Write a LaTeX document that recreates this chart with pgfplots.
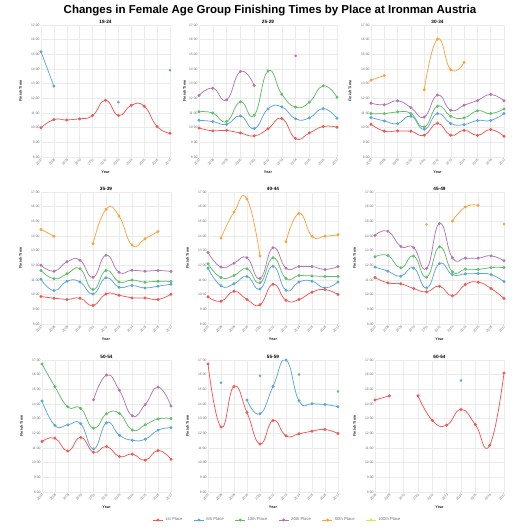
\documentclass[border=0pt]{standalone}
\usepackage{pgfplots}
\pgfplotsset{compat=1.18}
\usepackage{fontspec}
\setmainfont{Liberation Sans}
\definecolor{c1}{HTML}{F15854}
\definecolor{c5}{HTML}{5DA5DA}
\definecolor{c10}{HTML}{60BD68}
\definecolor{c20}{HTML}{B276B2}
\definecolor{c50}{HTML}{FAA43A}
\definecolor{c100}{HTML}{E8E04A}
\definecolor{gridc}{HTML}{EBEBEB}
\definecolor{tickc}{HTML}{707070}
\newcommand{\labfont}{\bfseries\fontsize{3.8}{4.5}\selectfont}
\pgfplotsset{
  panel/.style={scale only axis, height=132pt, xmin=2007, xmax=2017, ymin=8, ymax=17,
    xtick={2007,2008,2009,2010,2011,2012,2013,2014,2015,2016,2017},
    xticklabels={2007,2008,2009,2010,2011,2012,2013,2014,2015,2016,2017},
    ytick={8,9,10,11,12,13,14,15,16,17},
    yticklabels={8:00,9:00,10:00,11:00,12:00,13:00,14:00,15:00,16:00,17:00},
    grid=major, major grid style={draw=gridc, line width=0.5pt},
    axis line style={draw=none}, tick style={draw=none},
    ticklabel style={font=\fontsize{3.4}{4}\selectfont, text=tickc},
    xticklabel style={rotate=45, anchor=north east, inner sep=0.8pt},
    yticklabel style={inner sep=1.2pt},
    xlabel={\labfont Year}, ylabel={\labfont Finish Time},
    every axis x label/.style={at={(axis description cs:0.5,0)}, anchor=north, yshift=-14pt, inner sep=0pt, text=black!85},
    every axis y label/.style={at={(axis description cs:-0.158,0.5)}, rotate=90, anchor=center, inner sep=0pt, text=black!85},
    every axis title/.style={font=\bfseries\fontsize{4.7}{5.5}\selectfont, at={(axis description cs:0.5,1)}, anchor=south, inner sep=1.2pt},
    clip mode=individual,
  },
  s/.style={line width=0.75pt, mark=*, mark size=1.1pt, smooth, tension=0.85},
  p/.style={only marks, mark=*, mark size=1.1pt},
}
\begin{document}
\begin{tikzpicture}
\path[use as bounding box] (0,0) rectangle (530pt,530pt);
\node[font=\bfseries\fontsize{11.5}{13}\selectfont] at (270pt,519.5pt) {Changes in Female Age Group Finishing Times by Place at Ironman Austria};

% ---------- 18-24
\begin{axis}[panel, at={(41pt,373pt)}, anchor=south west, width=129pt, title={18-24}]
\addplot[s, c1] coordinates {(2007,10.0)(2008,10.55)(2009,10.52)(2010,10.6)(2011,10.83)(2012,11.87)(2013,10.83)(2014,11.53)(2015,11.46)(2016,10.08)(2017,9.62)};
\addplot[s, c5] coordinates {(2007,15.18)(2008,12.83)};
\addplot[p, c5] coordinates {(2013,11.74)(2017,13.92)};
\end{axis}

% ---------- 25-29
\begin{axis}[panel, at={(199pt,373pt)}, anchor=south west, width=138pt, title={25-29},
  every axis y label/.append style={at={(axis description cs:-0.105,0.5)}}]
\addplot[s, c1] coordinates {(2007,9.98)(2008,9.78)(2009,9.82)(2010,9.64)(2011,9.44)(2012,9.92)(2013,10.62)(2014,9.26)(2015,9.64)(2016,10.08)(2017,10.03)};
\addplot[s, c5] coordinates {(2007,10.5)(2008,10.42)(2009,10.23)(2010,10.8)(2011,9.94)(2012,11.28)(2013,11.42)(2014,10.6)(2015,10.67)(2016,11.3)(2017,10.64)};
\addplot[s, c10] coordinates {(2007,11.08)(2008,11.0)(2009,10.42)(2010,11.76)(2011,10.85)(2012,13.86)(2013,12.28)(2014,11.4)(2015,11.74)(2016,12.85)(2017,12.08)};
\addplot[s, c20] coordinates {(2007,12.19)(2008,12.69)(2009,11.9)(2010,13.83)(2011,12.88)};
\addplot[p, c20] coordinates {(2014,14.9)};
\end{axis}

% ---------- 30-34
\begin{axis}[panel, at={(371pt,373pt)}, anchor=south west, width=133pt, title={30-34}]
\addplot[s, c1] coordinates {(2007,10.23)(2008,9.76)(2009,9.78)(2010,9.76)(2011,9.48)(2012,10.3)(2013,9.48)(2014,9.82)(2015,9.48)(2016,9.87)(2017,9.41)};
\addplot[s, c5] coordinates {(2007,10.69)(2008,10.46)(2009,10.28)(2010,10.78)(2011,9.89)(2012,10.96)(2013,10.28)(2014,10.21)(2015,10.49)(2016,10.49)(2017,10.96)};
\addplot[s, c10] coordinates {(2007,10.96)(2008,10.96)(2009,11.08)(2010,10.96)(2011,10.05)(2012,11.46)(2013,10.78)(2014,10.67)(2015,11.15)(2016,10.96)(2017,11.28)};
\addplot[s, c20] coordinates {(2007,11.67)(2008,11.56)(2009,11.83)(2010,11.37)(2011,10.73)(2012,12.22)(2013,11.19)(2014,11.53)(2015,11.85)(2016,12.26)(2017,11.83)};
\addplot[s, c50] coordinates {(2007,13.24)(2008,13.56)};
\addplot[s, c50] coordinates {(2011,12.58)(2012,16.04)(2013,13.95)(2014,14.45)};
\end{axis}

% ---------- 35-39
\begin{axis}[panel, at={(41pt,206pt)}, anchor=south west, width=130pt, title={35-39}]
\addplot[s, c1] coordinates {(2007,9.87)(2008,9.76)(2009,9.67)(2010,9.76)(2011,9.26)(2012,10.05)(2013,9.96)(2014,9.78)(2015,9.78)(2016,9.67)(2017,10.03)};
\addplot[s, c5] coordinates {(2007,11.05)(2008,10.28)(2009,10.92)(2010,10.87)(2011,10.05)(2012,11.15)(2013,10.51)(2014,10.62)(2015,10.46)(2016,10.58)(2017,10.71)};
\addplot[s, c10] coordinates {(2007,11.65)(2008,11.08)(2009,11.42)(2010,11.76)(2011,10.35)(2012,11.65)(2013,10.87)(2014,11.0)(2015,10.85)(2016,10.92)(2017,10.89)};
\addplot[s, c20] coordinates {(2007,12.01)(2008,11.6)(2009,12.24)(2010,12.35)(2011,11.19)(2012,12.69)(2013,11.53)(2014,11.67)(2015,11.6)(2016,11.65)(2017,11.58)};
\addplot[s, c50] coordinates {(2007,14.45)(2008,13.99)};
\addplot[s, c50] coordinates {(2011,13.47)(2012,15.82)(2013,15.36)(2014,13.38)(2015,13.81)(2016,14.31)};
\end{axis}

% ---------- 40-44
\begin{axis}[panel, at={(208pt,206pt)}, anchor=south west, width=130pt, title={40-44}]
\addplot[s, c1] coordinates {(2007,9.85)(2008,9.55)(2009,10.23)(2010,9.67)(2011,9.32)(2012,10.71)(2013,9.62)(2014,9.67)(2015,10.17)(2016,10.35)(2017,10.01)};
\addplot[s, c5] coordinates {(2007,11.81)(2008,10.6)(2009,10.74)(2010,11.24)(2011,10.39)(2012,11.94)(2013,10.3)(2014,10.87)(2015,10.92)(2016,10.46)(2017,10.87)};
\addplot[s, c10] coordinates {(2007,12.1)(2008,11.17)(2009,11.31)(2010,11.76)(2011,10.81)(2012,12.51)(2013,11.1)(2014,11.31)(2015,11.28)(2016,11.24)(2017,11.24)};
\addplot[s, c20] coordinates {(2007,12.88)(2008,11.88)(2009,12.15)(2010,12.51)(2011,11.1)(2012,13.2)(2013,11.81)(2014,11.92)(2015,11.92)(2016,11.72)(2017,11.92)};
\addplot[s, c50] coordinates {(2008,13.86)(2009,15.63)(2010,16.52)(2011,12.63)};
\addplot[s, c50] coordinates {(2013,13.61)(2014,15.54)(2015,13.99)(2016,13.99)(2017,14.08)};
\end{axis}

% ---------- 45-49
\begin{axis}[panel, at={(375pt,206pt)}, anchor=south west, width=129pt, title={45-49}]
\addplot[s, c1] coordinates {(2007,11.17)(2008,10.8)(2009,10.74)(2010,10.42)(2011,10.19)(2012,10.58)(2013,9.92)(2014,10.69)(2015,10.85)(2016,10.42)(2017,9.74)};
\addplot[s, c5] coordinates {(2007,11.88)(2008,11.6)(2009,11.26)(2010,11.81)(2011,10.46)(2012,12.12)(2013,11.37)(2014,11.42)(2015,11.44)(2016,11.37)(2017,10.89)};
\addplot[s, c10] coordinates {(2007,12.58)(2008,12.67)(2009,11.83)(2010,12.63)(2011,11.19)(2012,13.26)(2013,11.56)(2014,11.74)(2015,11.72)(2016,11.85)(2017,11.85)};
\addplot[s, c20] coordinates {(2007,14.04)(2008,14.33)(2009,13.29)(2010,13.2)(2011,11.79)(2012,14.86)(2013,12.51)(2014,12.49)(2015,12.49)(2016,12.65)(2017,12.31)};
\addplot[p, c50] coordinates {(2011,14.79)(2017,14.81)};
\addplot[s, c50] coordinates {(2013,15.02)(2014,15.98)(2015,16.09)};
\end{axis}

% ---------- 50-54
\begin{axis}[panel, at={(42pt,38pt)}, anchor=south west, width=129pt, title={50-54}]
\addplot[s, c1] coordinates {(2007,11.44)(2008,11.67)(2009,10.8)(2010,11.72)(2011,10.71)(2012,11.1)(2013,10.42)(2014,10.58)(2015,10.17)(2016,10.83)(2017,10.23)};
\addplot[s, c5] coordinates {(2007,14.2)(2008,12.54)(2009,12.58)(2010,12.65)(2011,10.94)(2012,12.72)(2013,11.87)(2014,11.53)(2015,11.6)(2016,12.22)(2017,12.38)};
\addplot[s, c10] coordinates {(2007,16.73)(2008,15.18)(2009,13.81)(2010,13.7)(2011,12.35)(2012,13.33)(2013,13.36)(2014,12.22)(2015,12.58)(2016,12.99)(2017,13.01)};
\addplot[s, c20] coordinates {(2011,14.29)(2012,15.97)(2013,14.93)(2014,13.2)(2015,13.97)(2016,15.15)(2017,13.86)};
\end{axis}

% ---------- 55-59
\begin{axis}[panel, at={(208pt,38pt)}, anchor=south west, width=130pt, title={55-59},
  legend columns=6,
  legend style={at={(axis description cs:0.535,-0.212)}, anchor=center, draw=none, fill=none,
    font=\fontsize{4.2}{5}\selectfont, text=tickc, inner sep=0pt,
    /tikz/every even column/.append style={column sep=9pt}},
  legend image code/.code={\draw[mark repeat=2,mark phase=2] plot coordinates {(0pt,0pt) (5pt,0pt) (10pt,0pt)};}]
\addplot[s, c1, forget plot] coordinates {(2007,16.73)(2008,12.44)(2009,15.2)(2010,13.42)(2011,11.28)(2012,12.88)(2013,11.83)(2014,11.97)(2015,12.15)(2016,12.26)(2017,11.99)};
\addplot[p, c5, forget plot] coordinates {(2008,15.45)};
\addplot[s, c5, forget plot] coordinates {(2010,14.27)(2011,13.33)(2012,15.2)(2013,17.0)(2014,14.22)(2015,14.02)(2016,13.97)(2017,13.81)};
\addplot[p, c10, forget plot] coordinates {(2011,15.93)(2014,16.02)(2017,14.86)};
\addlegendimage{c1, line width=0.75pt, mark=*, mark size=1.1pt}
\addlegendentry{1st Place}
\addlegendimage{c5, line width=0.75pt, mark=*, mark size=1.1pt}
\addlegendentry{5th Place}
\addlegendimage{c10, line width=0.75pt, mark=*, mark size=1.1pt}
\addlegendentry{10th Place}
\addlegendimage{c20, line width=0.75pt, mark=*, mark size=1.1pt}
\addlegendentry{20th Place}
\addlegendimage{c50, line width=0.75pt, mark=*, mark size=1.1pt}
\addlegendentry{50th Place}
\addlegendimage{c100, line width=0.75pt, mark=*, mark size=1.1pt}
\addlegendentry{100th Place}
\end{axis}

% ---------- 60-64
\begin{axis}[panel, at={(375pt,38pt)}, anchor=south west, width=129pt, title={60-64}, xmin=2008,
  xtick={2008,2009,2010,2011,2012,2013,2014,2015,2016,2017},
  xticklabels={2008,2009,2010,2011,2012,2013,2014,2015,2016,2017}]
\addplot[s, c1] coordinates {(2008,14.27)(2009,14.56)};
\addplot[s, c1] coordinates {(2011,14.56)(2012,12.88)(2013,12.56)(2014,13.63)(2015,12.6)(2016,11.19)(2017,16.11)};
\addplot[p, c5] coordinates {(2014,15.61)};
\end{axis}
\end{tikzpicture}
\end{document}
